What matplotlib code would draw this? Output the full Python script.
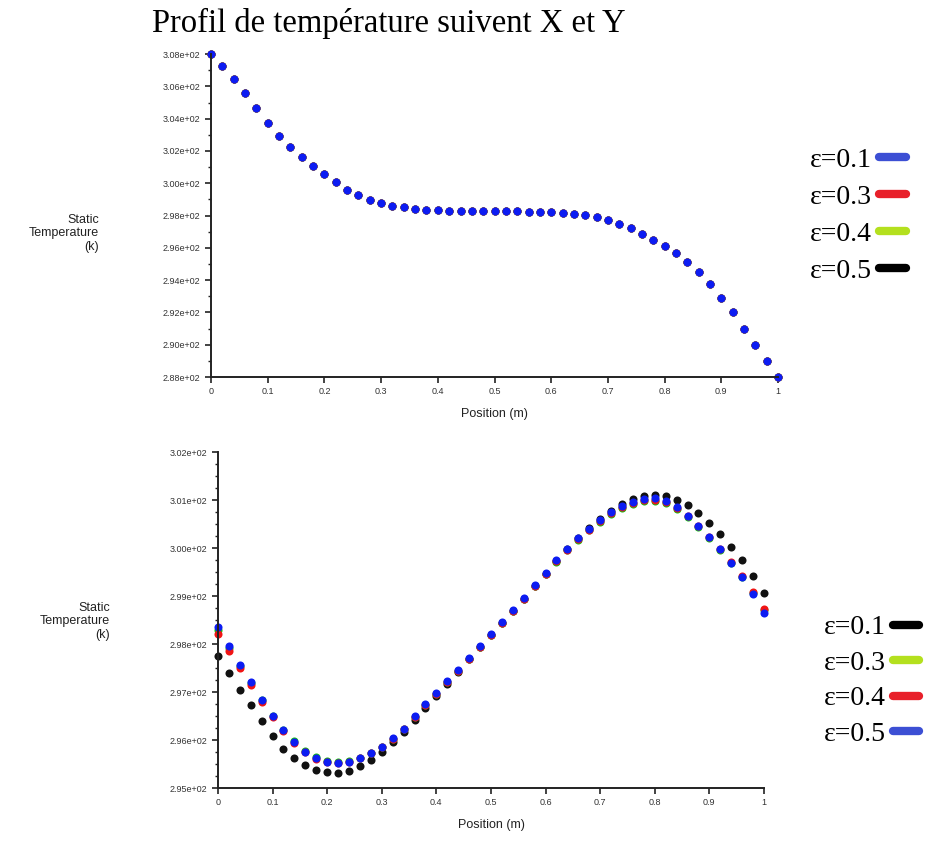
import numpy as np
import matplotlib
matplotlib.use('Agg')
import matplotlib.pyplot as plt
from matplotlib.lines import Line2D
from matplotlib.ticker import MultipleLocator, FuncFormatter

# Positions along the line (m)
position = [0.00, 0.02, 0.04, 0.06, 0.08, 0.10, 0.12, 0.14, 0.16, 0.18,
            0.20, 0.22, 0.24, 0.26, 0.28, 0.30, 0.32, 0.34, 0.36, 0.38,
            0.40, 0.42, 0.44, 0.46, 0.48, 0.50, 0.52, 0.54, 0.56, 0.58,
            0.60, 0.62, 0.64, 0.66, 0.68, 0.70, 0.72, 0.74, 0.76, 0.78,
            0.80, 0.82, 0.84, 0.86, 0.88, 0.90, 0.92, 0.94, 0.96, 0.98, 1.00]

# Profile along X (top chart) - all eps give the same curve
temp_x = [308.00, 307.25, 306.45, 305.60, 304.65, 303.75, 302.95, 302.25, 301.60, 301.05,
          300.55, 300.05, 299.60, 299.25, 298.95, 298.75, 298.60, 298.50, 298.42, 298.37,
          298.33, 298.30, 298.28, 298.27, 298.26, 298.26, 298.26, 298.26, 298.25, 298.24,
          298.22, 298.18, 298.12, 298.03, 297.90, 297.70, 297.50, 297.20, 296.85, 296.50,
          296.10, 295.70, 295.15, 294.50, 293.75, 292.90, 292.00, 291.00, 290.00, 289.00, 288.00]
temp_x_eps01 = temp_x
temp_x_eps03 = temp_x
temp_x_eps04 = temp_x
temp_x_eps05 = temp_x

# Profile along Y (bottom chart)
temp_y_eps01 = [297.75, 297.40, 297.05, 296.72, 296.40, 296.08, 295.82, 295.62, 295.47, 295.37,
                295.33, 295.32, 295.36, 295.45, 295.58, 295.75, 295.95, 296.17, 296.42, 296.67,
                296.92, 297.17, 297.42, 297.68, 297.93, 298.18, 298.43, 298.68, 298.94, 299.20,
                299.46, 299.72, 299.97, 300.20, 300.41, 300.60, 300.77, 300.91, 301.02, 301.08,
                301.10, 301.08, 301.01, 300.89, 300.73, 300.53, 300.30, 300.03, 299.74, 299.42, 299.06]
temp_y_eps03 = [298.30, 297.92, 297.55, 297.19, 296.84, 296.50, 296.21, 295.97, 295.78, 295.64,
                295.57, 295.54, 295.56, 295.62, 295.72, 295.86, 296.03, 296.23, 296.48, 296.73,
                296.96, 297.20, 297.44, 297.69, 297.93, 298.18, 298.43, 298.68, 298.94, 299.20,
                299.46, 299.71, 299.95, 300.17, 300.37, 300.55, 300.71, 300.83, 300.92, 300.97,
                300.98, 300.93, 300.81, 300.64, 300.44, 300.21, 299.96, 299.69, 299.40, 299.07, 298.70]
temp_y_eps04 = [298.20, 297.85, 297.50, 297.15, 296.80, 296.47, 296.18, 295.94, 295.75, 295.61,
                295.54, 295.52, 295.55, 295.62, 295.72, 295.86, 296.03, 296.23, 296.48, 296.73,
                296.96, 297.20, 297.44, 297.69, 297.93, 298.18, 298.43, 298.68, 298.94, 299.20,
                299.46, 299.72, 299.96, 300.18, 300.38, 300.56, 300.72, 300.85, 300.94, 301.00,
                301.01, 300.96, 300.84, 300.66, 300.45, 300.23, 299.98, 299.71, 299.42, 299.09, 298.72]
temp_y_eps05 = [298.35, 297.95, 297.57, 297.20, 296.84, 296.50, 296.20, 295.95, 295.76, 295.62,
                295.55, 295.52, 295.55, 295.62, 295.72, 295.86, 296.04, 296.24, 296.50, 296.75,
                296.98, 297.22, 297.46, 297.71, 297.95, 298.20, 298.45, 298.70, 298.96, 299.22,
                299.48, 299.74, 299.98, 300.20, 300.40, 300.58, 300.74, 300.87, 300.96, 301.02,
                301.04, 300.98, 300.85, 300.67, 300.46, 300.23, 299.97, 299.69, 299.39, 299.05, 298.65]

eps_top = ['ε=0.1', 'ε=0.3', 'ε=0.4', 'ε=0.5']
eps_bottom = ['ε=0.1', 'ε=0.3', 'ε=0.4', 'ε=0.5']

dot_blue, dot_red, dot_green, dot_black = '#0c1cf2', '#f01414', '#14c014', '#111111'
leg_blue, leg_red, leg_green, leg_black = '#3c4fd4', '#e8202a', '#b4e01e', '#000000'

fig = plt.figure(figsize=(9.26, 8.49), dpi=100)

fig.text(0.42, 0.972, 'Profil de température suivent X et Y', ha='center', va='center',
         fontsize=23.5, family='Liberation Serif')


def style_axes(ax, ymin, ymax, major, minor):
    ax.set_xlim(0, 1)
    ax.set_ylim(ymin, ymax)
    for s in ['top', 'right']:
        ax.spines[s].set_visible(False)
    for s in ['left', 'bottom']:
        ax.spines[s].set_linewidth(1.4)
        ax.spines[s].set_color('#222222')
    ax.xaxis.set_major_locator(MultipleLocator(0.1))
    ax.yaxis.set_major_locator(MultipleLocator(major))
    ax.yaxis.set_minor_locator(MultipleLocator(minor))
    ax.xaxis.set_major_formatter(FuncFormatter(lambda v, p: '%g' % round(v, 1)))
    ax.yaxis.set_major_formatter(FuncFormatter(lambda v, p: '%.2e' % v))
    ax.tick_params(axis='both', which='major', labelsize=6.5, length=4, width=1.2,
                   color='#222222', labelcolor='#333333')
    ax.tick_params(axis='y', which='minor', length=2.5, width=1.0, color='#222222')
    for lab in ax.get_xticklabels() + ax.get_yticklabels():
        lab.set_family('Liberation Sans')
    ax.set_xlabel('Position (m)', fontsize=9, family='Liberation Sans', color='#222222', labelpad=8)


# Top chart: along X
ax1 = fig.add_axes([0.2279, 0.5559, 0.6123, 0.3804])
top_series = [(temp_x_eps05, dot_black), (temp_x_eps04, dot_green),
              (temp_x_eps03, dot_red), (temp_x_eps01, dot_blue)]
for temps, c in top_series:
    ax1.plot(position, temps, 'o', color=c, markersize=5.8, markeredgewidth=0, clip_on=False)
style_axes(ax1, 288, 308, 2, 1)
fig.text(0.107, 0.725, 'Static\nTemperature\n(k)', ha='right', va='center', multialignment='right',
         fontsize=9, family='Liberation Sans', color='#222222', linespacing=1.2)

# Bottom chart: along Y
ax2 = fig.add_axes([0.2354, 0.0718, 0.5896, 0.3958])
bottom_series = [(temp_y_eps01, dot_black), (temp_y_eps03, dot_green),
                 (temp_y_eps04, dot_red), (temp_y_eps05, dot_blue)]
for temps, c in bottom_series:
    ax2.plot(position, temps, 'o', color=c, markersize=5.8, markeredgewidth=0, clip_on=False)
style_axes(ax2, 295, 302, 1, 0.25)
fig.text(0.119, 0.268, 'Static\nTemperature\n(k)', ha='right', va='center', multialignment='right',
         fontsize=9, family='Liberation Sans', color='#222222', linespacing=1.2)


def make_legend(labels, colors, anchor, spacing):
    handles = [Line2D([0], [0], color=c, lw=6, solid_capstyle='round') for c in colors]
    leg = fig.legend(handles, labels, loc='upper left', bbox_to_anchor=anchor, frameon=False,
                     markerfirst=False, handlelength=0.95, handletextpad=0.25, labelspacing=spacing,
                     prop={'family': 'Liberation Serif', 'size': 20})
    return leg


make_legend(eps_top, [leg_blue, leg_red, leg_green, leg_black], (0.848, 0.856), 0.42)
make_legend(eps_bottom, [leg_black, leg_green, leg_red, leg_blue], (0.863, 0.305), 0.36)

fig.savefig('out.png', dpi=100)
